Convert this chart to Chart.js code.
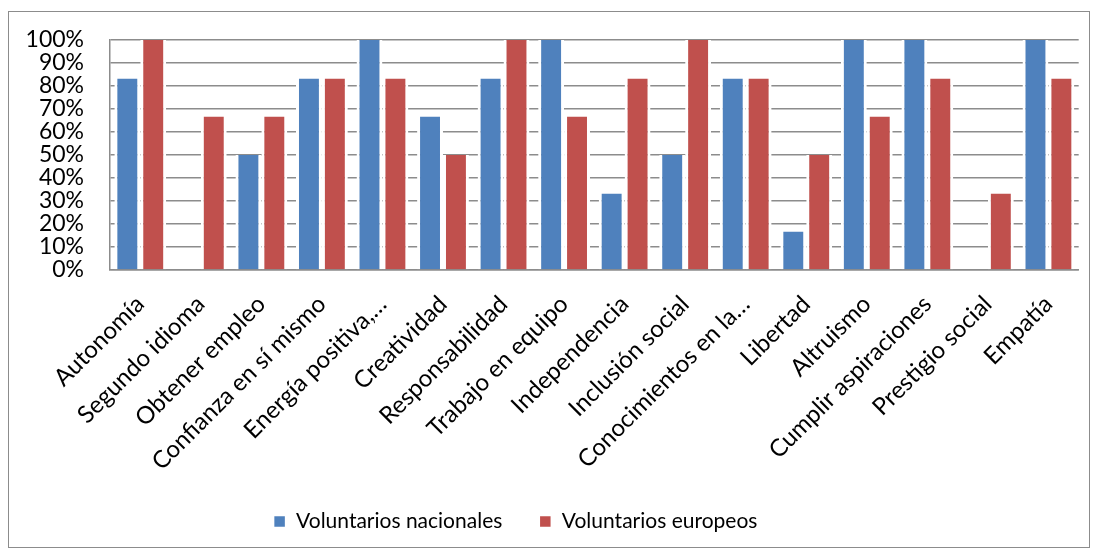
<!DOCTYPE html>
<html>
<head>
<meta charset="utf-8">
<script src="https://cdn.jsdelivr.net/npm/chart.js@4"></script>
<style>
  body { margin: 0; background: #fff; }
  #box {
    position: absolute; left: 8px; top: 11px;
    width: 1080px; height: 535px;
    border: 1px solid #8c8c8c;
  }
</style>
</head>
<body>
<div id="box"><canvas id="myChart"></canvas></div>
<script>
const categories = [
  'Autonomía', 'Segundo idioma', 'Obtener empleo', 'Confianza en sí mismo',
  'Energía positiva,…', 'Creatividad', 'Responsabilidad', 'Trabajo en equipo',
  'Independencia', 'Inclusión social', 'Conocimientos en la…', 'Libertad',
  'Altruismo', 'Cumplir aspiraciones', 'Prestigio social', 'Empatía'
];
const nacionales = [83.3, 0, 50, 83.3, 100, 66.7, 83.3, 100, 33.3, 50, 83.3, 16.7, 100, 100, 0, 100];
const europeos = [100, 66.7, 66.7, 83.3, 83.3, 50, 100, 66.7, 83.3, 100, 83.3, 50, 66.7, 83.3, 33.3, 83.3];
const yTicks = [0, 10, 20, 30, 40, 50, 60, 70, 80, 90, 100];

const font = 'Lato, "Liberation Sans", sans-serif';
Chart.defaults.font.family = font;
Chart.defaults.color = '#000';

// legend sits a bit left of centre in the original
const legendShift = {
  id: 'legendShift',
  afterLayout(chart) {
    chart.legend.left -= 30;
    chart.legend.right -= 30;
  },
};

const ctx = document.getElementById('myChart').getContext('2d');
new Chart(ctx, {
  type: 'bar',
  data: {
    labels: categories,
    datasets: [
      {
        label: 'Voluntarios nacionales',
        data: nacionales,
        backgroundColor: '#4f81bd',
        borderColor: '#fff',
        borderWidth: { left: 3, right: 3, top: 0, bottom: 0 },
      },
      {
        label: 'Voluntarios europeos',
        data: europeos,
        backgroundColor: '#c0504d',
        borderColor: '#fff',
        borderWidth: { left: 3, right: 3, top: 0, bottom: 0 },
      },
    ],
  },
  options: {
    responsive: true,
    maintainAspectRatio: false,
    animation: false,
    layout: { padding: { top: 28, right: 7, bottom: 5, left: 0 } },
    datasets: { bar: { categoryPercentage: 0.856, barPercentage: 1 } },
    plugins: {
      tooltip: { enabled: false },
      legend: {
        position: 'bottom',
        labels: { boxWidth: 12, boxHeight: 12, padding: 37, font: { size: 21 } },
      },
    },
    scales: {
      x: {
        grid: { display: false, drawTicks: false },
        border: { color: '#8c8c8c', width: 1.5 },
        ticks: { minRotation: 45, maxRotation: 45, autoSkip: false, padding: 20, font: { size: 24 } },
        afterFit: (scale) => { scale.height = 204; },
      },
      y: {
        min: 0,
        max: 100,
        afterBuildTicks: (scale) => { scale.ticks = yTicks.map(v => ({ value: v })); },
        grid: { color: '#8c8c8c', lineWidth: 1.5, drawTicks: false },
        border: { color: '#8c8c8c', width: 1.5 },
        ticks: { autoSkip: false, padding: 26, font: { size: 23 }, callback: (v) => v + '%' },
        afterFit: (scale) => {
          scale.width = 101;
          scale.paddingTop = 0; // tick padding would otherwise push the plot down
        },
      },
    },
  },
  plugins: [legendShift],
});
</script>
</body>
</html>
